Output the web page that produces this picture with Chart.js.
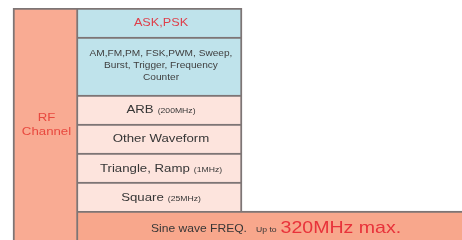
<!DOCTYPE html>
<html>
<head>
<meta charset="utf-8">
<script src="https://cdn.jsdelivr.net/npm/chart.js@4/dist/chart.umd.min.js"></script>
<style>
  html, body { margin: 0; padding: 0; background: #fff; }
  #wrap { width: 462px; height: 240px; position: relative; }
</style>
</head>
<body>
<div id="wrap"><canvas id="diagram"></canvas></div>
<script>
"use strict";

// rows of the block diagram, top to bottom (the modulation block takes two slots)
const rows = ["ask", "mod1", "mod2", "arb", "other", "tri", "square", "sine"];
// x ranges of each column, in diagram units
const leftColumn = [13, 78];
const midColumn = [78, 242];
const sineBar = [78, 462];
// which rows fall in the blue (modulation) block
const blueRows = ["ask", "mod1", "mod2"];

const LINE = "#7d7575";
const LW = 2;
// the text in the picture is a little wider than the font
const STRETCH = 1.15;

// text for each row: [main text, small suffix]
const rowText = {
  ask: ["ASK,PSK", ""],
  arb: ["ARB", "(200MHz)"],
  other: ["Other Waveform", ""],
  tri: ["Triangle, Ramp", "(1MHz)"],
  square: ["Square", "(25MHz)"]
};
const modText = ["AM,FM,PM, FSK,PWM, Sweep,", "Burst, Trigger, Frequency", "Counter"];
const sideText = ["RF", "Channel"];
const sineText = ["Sine wave FREQ.", "Up to", "320MHz max."];

const FONT = "'Liberation Sans', Arial, sans-serif";

function textWidth(ctx, text, size) {
  ctx.font = size + "px " + FONT;
  return ctx.measureText(text).width * STRETCH;
}

function drawText(ctx, text, x, y, size, color, align) {
  ctx.save();
  ctx.translate(x, y);
  ctx.scale(STRETCH, 1);
  ctx.font = size + "px " + FONT;
  ctx.fillStyle = color;
  ctx.textAlign = align;
  ctx.textBaseline = "middle";
  ctx.fillText(text, 0, 0);
  ctx.restore();
}

// draws the labels on top of the blocks
const labelPlugin = {
  id: "labels",
  afterDatasetsDraw(chart) {
    const ctx = chart.ctx;
    const xs = chart.scales.x;
    const mid = chart.getDatasetMeta(1).data;
    const left = chart.getDatasetMeta(0).data;
    const sine = chart.getDatasetMeta(2).data[rows.indexOf("sine")];
    const cx = (xs.getPixelForValue(midColumn[0]) + xs.getPixelForValue(midColumn[1])) / 2 + 1;

    // left column
    const lx = (xs.getPixelForValue(leftColumn[0]) + xs.getPixelForValue(leftColumn[1])) / 2 + 1;
    const ly = (left[3].y + left[4].y) / 2 + 1;
    drawText(ctx, sideText[0], lx, ly - 7, 11.5, "#e8493f", "center");
    drawText(ctx, sideText[1], lx, ly + 7, 11.5, "#e8493f", "center");

    // ASK,PSK
    drawText(ctx, rowText.ask[0], cx, mid[0].y, 11, "#de3f4a", "center");

    // modulation list
    const my = (mid[1].y + mid[2].y) / 2;
    modText.forEach((t, i) => drawText(ctx, t, cx, my - 12 + i * 12, 8.8, "#404040", "center"));

    // waveform rows with small suffix
    ["arb", "other", "tri", "square"].forEach((key, i) => {
      const y = mid[rows.indexOf(key)].y + (i > 1 ? 1.5 : 0);
      const main = rowText[key][0];
      const small = rowText[key][1];
      const w1 = textWidth(ctx, main, 11.5);
      const w2 = small ? textWidth(ctx, small, 7.5) + 4 : 0;
      const x = cx - (w1 + w2) / 2;
      drawText(ctx, main, x, y, 11.5, "#363636", "left");
      if (small) {
        drawText(ctx, small, x + w1 + 4, y + 1, 7.5, "#363636", "left");
      }
    });

    // sine wave bar
    const sy = sine.y + 3.5;
    let sx = 151;
    drawText(ctx, sineText[0], sx, sy, 10.5, "#363636", "left");
    sx += textWidth(ctx, sineText[0], 10.5) + 9;
    drawText(ctx, sineText[1], sx, sy + 1, 7.5, "#363636", "left");
    sx += textWidth(ctx, sineText[1], 7.5) + 4;
    drawText(ctx, sineText[2], sx, sy - 1, 17, "#e8323a", "left");
  }
};

function midBorder(c) {
  const key = rows[c.dataIndex];
  if (key === "mod2") return { top: 0, bottom: 0, left: 0, right: LW };
  return { top: LW, bottom: 0, left: 0, right: LW };
}

new Chart(document.getElementById("diagram"), {
  type: "bar",
  data: {
    labels: rows,
    datasets: [
      {
        // RF channel column
        data: rows.map(() => leftColumn),
        backgroundColor: "#f9ab93",
        borderColor: LINE,
        borderWidth: c => ({ top: c.dataIndex === 0 ? LW : 0, bottom: 0, left: LW, right: LW }),
        borderSkipped: false
      },
      {
        // waveform / modulation blocks
        data: rows.map(r => (r === "sine" ? null : midColumn)),
        backgroundColor: c => (blueRows.includes(rows[c.dataIndex]) ? "#bfe3eb" : "#fde4dd"),
        borderColor: LINE,
        borderWidth: midBorder,
        borderSkipped: false
      },
      {
        // sine wave bar
        data: rows.map(r => (r === "sine" ? sineBar : null)),
        backgroundColor: "#f8a78c",
        borderColor: LINE,
        borderWidth: { top: LW, bottom: 0, left: 0, right: 0 },
        borderSkipped: false
      }
    ]
  },
  options: {
    indexAxis: "y",
    responsive: true,
    maintainAspectRatio: false,
    animation: false,
    layout: { padding: { top: 8, left: 0, right: 0, bottom: 0 } },
    datasets: { bar: { grouped: false, barPercentage: 1, categoryPercentage: 1 } },
    scales: {
      x: { type: "linear", min: 0, max: 462, display: false },
      y: { display: false }
    },
    plugins: { legend: { display: false }, tooltip: { enabled: false } }
  },
  plugins: [labelPlugin]
});
</script>
</body>
</html>
